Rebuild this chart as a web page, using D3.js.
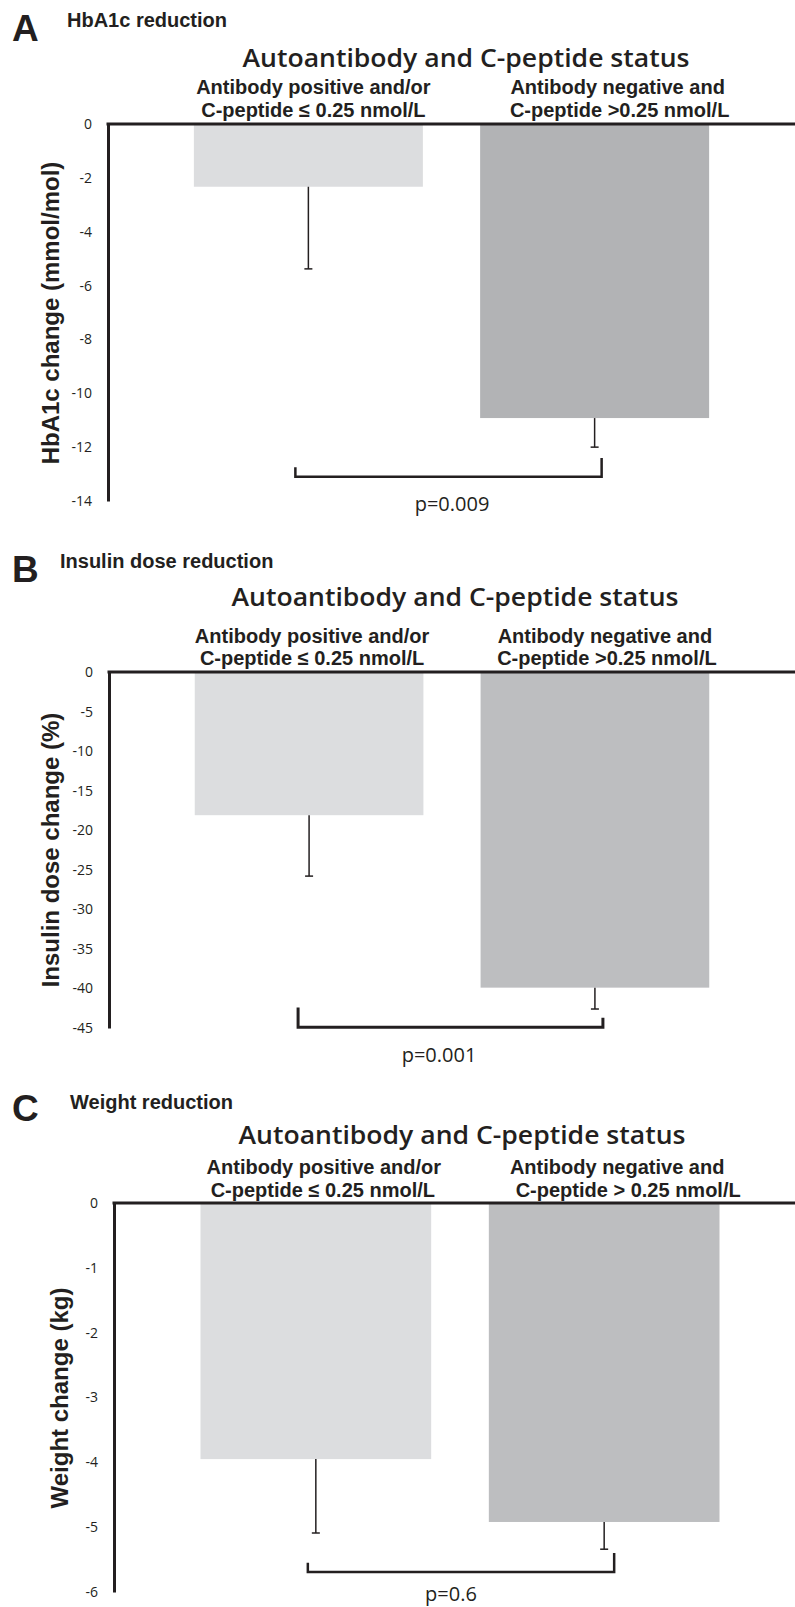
<!DOCTYPE html>
<html>
<head>
<meta charset="utf-8">
<script src="https://cdn.jsdelivr.net/npm/d3@7"></script>
<style>
  body { margin: 0; background: #fff; }
  svg { display: block; }
</style>
</head>
<body>
<script>
var width = 795,
    height = 1607;

// data (means and error bar lengths)
var groups = ['pos', 'neg'];
var hba1cMean = [-2.33, -10.92],
    hba1cErr = [3.05, 1.08];
var insulinMean = [-18.1, -39.9],
    insulinErr = [7.7, 2.7];
var weightMean = [-3.95, -4.92],
    weightErr = [1.14, 0.42];

var hba1cTicks = [0, -2, -4, -6, -8, -10, -12, -14];
var insulinTicks = [0, -5, -10, -15, -20, -25, -30, -35, -40, -45];
var weightTicks = [0, -1, -2, -3, -4, -5, -6];

var groupLabels = [['Antibody positive and/or', 'C-peptide ≤ 0.25 nmol/L'],
                   ['Antibody negative and', 'C-peptide >0.25 nmol/L']];
var groupLabelsC = [['Antibody positive and/or', 'C-peptide ≤ 0.25 nmol/L'],
                    ['Antibody negative and', 'C-peptide > 0.25 nmol/L']];
var pValues = ['p=0.009', 'p=0.001', 'p=0.6'];

var ink = '#231f20';

var svg = d3.select('body')
  .append('svg')
  .attr('width', width)
  .attr('height', height);

function drawPanel(p) {
  var g = svg.append('g');

  var y = d3.scaleLinear()
    .domain([0, p.ticks[p.ticks.length - 1]])
    .range([p.top, p.bottom]);

  var x = d3.scaleBand()
    .domain(groups)
    .range([p.left, p.right])
    .paddingInner(0.2)
    .paddingOuter(0.3);

  // bars
  g.selectAll('rect.bar')
    .data(p.mean)
    .enter().append('rect')
    .attr('class', 'bar')
    .attr('x', (d, i) => x(groups[i]))
    .attr('width', x.bandwidth())
    .attr('y', y(0))
    .attr('height', d => y(d) - y(0))
    .attr('fill', (d, i) => p.colors[i]);

  // error bars (downwards only)
  p.mean.forEach(function(m, i) {
    var cx = x(groups[i]) + x.bandwidth() / 2;
    g.append('line')
      .attr('x1', cx).attr('x2', cx)
      .attr('y1', y(m)).attr('y2', y(m - p.err[i]))
      .attr('stroke', ink).attr('stroke-width', 1.5);
    g.append('line')
      .attr('x1', cx - 4).attr('x2', cx + 4)
      .attr('y1', y(m - p.err[i])).attr('y2', y(m - p.err[i]))
      .attr('stroke', ink).attr('stroke-width', 1.5);
  });

  // y axis
  var yAxis = d3.axisLeft(y)
    .tickValues(p.ticks)
    .tickFormat(d => String(d))
    .tickSize(0)
    .tickSizeOuter(0)
    .tickPadding(16);

  var ax = g.append('g')
    .attr('transform', 'translate(' + p.left + ',0)')
    .call(yAxis);
  ax.select('.domain').attr('stroke', ink).attr('stroke-width', 3);
  ax.selectAll('text')
    .attr('fill', ink)
    .style('font-family', '"Open Sans", sans-serif')
    .style('font-size', '14px');

  // zero line across the top
  g.append('line')
    .attr('x1', p.left - 1.5).attr('x2', width)
    .attr('y1', y(0)).attr('y2', y(0))
    .attr('stroke', ink).attr('stroke-width', 3);

  // axis title
  g.append('text')
    .attr('transform', 'translate(' + p.titleX + ',' + p.titleY + ') rotate(-90)')
    .attr('text-anchor', 'middle')
    .attr('fill', ink)
    .style('font-family', '"Liberation Sans", Arial, sans-serif')
    .style('font-weight', 'bold')
    .style('font-size', '24px')
    .text(p.yTitle);

  // panel letter and heading
  g.append('text')
    .attr('x', 12).attr('y', p.letterY)
    .attr('fill', ink)
    .style('font-family', '"Liberation Sans", Arial, sans-serif')
    .style('font-weight', 'bold')
    .style('font-size', '37px')
    .text(p.letter);
  g.append('text')
    .attr('x', p.headX).attr('y', p.headY)
    .attr('fill', ink)
    .style('font-family', '"Liberation Sans", Arial, sans-serif')
    .style('font-weight', 'bold')
    .style('font-size', '20px')
    .text(p.heading);

  g.append('text')
    .attr('x', p.mainX).attr('y', p.mainY)
    .attr('text-anchor', 'middle')
    .attr('textLength', 447)
    .attr('lengthAdjust', 'spacingAndGlyphs')
    .attr('fill', ink)
    .style('font-family', '"Open Sans", sans-serif')
    .style('font-weight', 600)
    .style('font-size', '25px')
    .text('Autoantibody and C-peptide status');

  // group labels
  p.labels.forEach(function(lines, i) {
    var cx = x(groups[i]) + x.bandwidth() / 2;
    lines.forEach(function(t, j) {
      g.append('text')
        .attr('x', cx + p.labelDx[i][j])
        .attr('y', p.labelY[j])
        .attr('text-anchor', 'middle')
        .attr('fill', ink)
        .style('font-family', '"Liberation Sans", Arial, sans-serif')
        .style('font-weight', 'bold')
        .style('font-size', '20px')
        .text(t);
    });
  });

  // significance bracket
  var c1 = x(groups[0]) + x.bandwidth() / 2 + p.brDx[0],
      c2 = x(groups[1]) + x.bandwidth() / 2 + p.brDx[1];
  g.append('path')
    .attr('d', 'M' + c1 + ',' + y(p.br[1]) + 'V' + y(p.br[0]) + 'H' + c2 + 'V' + y(p.br[2]))
    .attr('fill', 'none')
    .attr('stroke', ink)
    .attr('stroke-width', p.brWidth);

  g.append('text')
    .attr('x', p.pX).attr('y', p.pY)
    .attr('text-anchor', 'middle')
    .attr('fill', ink)
    .style('font-family', '"Open Sans", sans-serif')
    .style('font-size', '20px')
    .text(p.pText);
}

drawPanel({
  mean: hba1cMean, err: hba1cErr, ticks: hba1cTicks,
  top: 124, bottom: 501, left: 108, right: 795,
  colors: ['#dcdddf', '#b2b3b5'],
  yTitle: 'HbA1c change (mmol/mol)', titleX: 59, titleY: 313,
  letter: 'A', letterY: 41, heading: 'HbA1c reduction', headX: 67, headY: 27,
  mainX: 466, mainY: 67,
  labels: groupLabels, labelY: [94, 117], labelDx: [[5, 5], [23, 25]],
  br: [-13.1, -12.75, -12.4], brDx: [-13, 7], brWidth: 2.5,
  pText: pValues[0], pX: 452, pY: 511
});

drawPanel({
  mean: insulinMean, err: insulinErr, ticks: insulinTicks,
  top: 672, bottom: 1028, left: 109, right: 795,
  colors: ['#dcdddf', '#bdbec0'],
  yTitle: 'Insulin dose change (%)', titleX: 59, titleY: 850,
  letter: 'B', letterY: 582, heading: 'Insulin dose reduction', headX: 60, headY: 568,
  mainX: 455, mainY: 606,
  labels: groupLabels, labelY: [643, 665], labelDx: [[3, 3], [10, 12]],
  br: [-44.9, -42.4, -43.7], brDx: [-11, 8], brWidth: 3,
  pText: pValues[1], pX: 439, pY: 1062
});

drawPanel({
  mean: weightMean, err: weightErr, ticks: weightTicks,
  top: 1203, bottom: 1592, left: 114, right: 806,
  colors: ['#dcdddf', '#bdbec0'],
  yTitle: 'Weight change (kg)', titleX: 68, titleY: 1398,
  letter: 'C', letterY: 1121, heading: 'Weight reduction', headX: 70, headY: 1109,
  mainX: 462, mainY: 1144,
  labels: groupLabelsC, labelY: [1174, 1197], labelDx: [[8, 7], [13, 24]],
  br: [-5.69, -5.55, -5.40], brDx: [-8, 10], brWidth: 2.5,
  pText: pValues[2], pX: 451, pY: 1601
});
</script>
</body>
</html>
